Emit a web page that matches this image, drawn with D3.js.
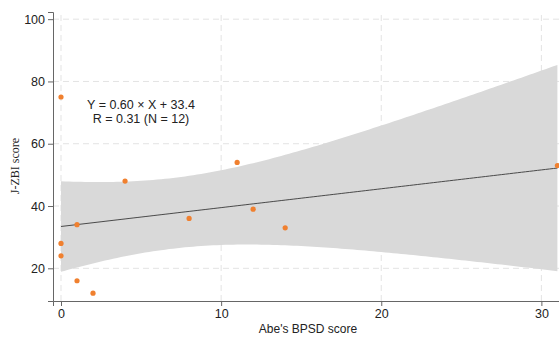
<!DOCTYPE html>
<html>
<head>
<meta charset="utf-8">
<script src="https://cdn.jsdelivr.net/npm/d3@7"></script>
<style>
body { margin: 0; background: #fff; }
text { font-family: "Liberation Sans", Arial, sans-serif; }
</style>
</head>
<body>
<script>
let width = 559;
let height = 337;

// Abe's BPSD score vs J-ZBI score
let bpsd = [0, 0, 0, 1, 1, 2, 4, 8, 11, 12, 14, 31];
let zbi  = [75, 28, 24, 34, 16, 12, 48, 36, 54, 39, 33, 53];
let xTicks = [0, 10, 20, 30];
let yTicks = [20, 40, 60, 80, 100];
let annot = ['Y = 0.60 \u00d7 X + 33.4', 'R = 0.31 (N = 12)'];

let x = d3.scaleLinear().domain([-0.5, 31.1]).range([53, 559]);
let y = d3.scaleLinear().domain([9.5, 102.3]).range([301, 12]);

let svg = d3.select('body')
.append('svg')
.attr('width', width)
.attr('height', height);

// grid
let grid = svg.append('g')
.attr('stroke', '#e3e3e3')
.attr('stroke-dasharray', '6,4')
.attr('stroke-width', 1);

grid.selectAll('.gx')
.data(xTicks)
.enter()
.append('line')
.attr('x1', d => x(d)).attr('x2', d => x(d))
.attr('y1', y.range()[0]).attr('y2', y.range()[1]);

grid.selectAll('.gy')
.data(yTicks)
.enter()
.append('line')
.attr('x1', x.range()[0]).attr('x2', x.range()[1])
.attr('y1', d => y(d)).attr('y2', d => y(d));

// linear fit with 95% CI
let n = bpsd.length;
let mx = d3.mean(bpsd), my = d3.mean(zbi);
let sxx = d3.sum(bpsd, d => (d - mx) * (d - mx));
let sxy = d3.sum(bpsd, (d, i) => (d - mx) * (zbi[i] - my));
let slope = sxy / sxx;
let icpt = my - slope * mx;
let sse = d3.sum(bpsd, (d, i) => Math.pow(zbi[i] - (icpt + slope * d), 2));
let s = Math.sqrt(sse / (n - 2));
let t = 2.228;

let xs = d3.range(0, 31.01, 0.25);
let band = xs.map(function(v){
    let se = s * Math.sqrt(1 / n + (v - mx) * (v - mx) / sxx);
    let f = icpt + slope * v;
    return {x: v, lo: f - t * se, hi: f + t * se, f: f};
});

svg.append('path')
.datum(band)
.attr('fill', '#d9d9d9')
.attr('d', d3.area().x(d => x(d.x)).y0(d => y(d.lo)).y1(d => y(d.hi)));

svg.append('path')
.datum(band)
.attr('fill', 'none')
.attr('stroke', '#4a4a4a')
.attr('stroke-width', 1)
.attr('d', d3.line().x(d => x(d.x)).y(d => y(d.f)));

// points
svg.append('g')
.selectAll('circle')
.data(bpsd)
.enter()
.append('circle')
.attr('cx', d => x(d))
.attr('cy', (d, i) => y(zbi[i]))
.attr('r', 2.6)
.attr('fill', '#f0802f');

// axes
let xAxis = svg.append('g')
.attr('transform', 'translate(0,301)')
.call(d3.axisBottom(x).tickValues(xTicks).tickSizeOuter(0).tickSize(5).tickPadding(3));

let yAxis = svg.append('g')
.attr('transform', 'translate(53,0)')
.call(d3.axisLeft(y).tickValues(yTicks).tickSizeOuter(0).tickSize(5).tickPadding(3));

[xAxis, yAxis].forEach(function(a){
    a.select('.domain').attr('stroke', '#666');
    a.selectAll('.tick line').attr('stroke', '#666');
    a.selectAll('.tick text')
    .attr('fill', '#222')
    .style('font-size', '12.5px')
    .style('font-family', '"Liberation Sans", Arial, sans-serif');
});

// axis titles
svg.append('text')
.attr('x', 308)
.attr('y', 333)
.attr('text-anchor', 'middle')
.attr('fill', '#222')
.style('font-size', '12px')
.text("Abe's BPSD score");

svg.append('text')
.attr('transform', 'translate(19,166) rotate(-90)')
.attr('text-anchor', 'middle')
.attr('fill', '#222')
.style('font-size', '12px')
.style('font-family', '"Liberation Serif", "Times New Roman", serif')
.text('J-ZBI score');

// annotation
svg.append('g')
.selectAll('text')
.data(annot)
.enter()
.append('text')
.attr('x', 141)
.attr('y', (d, i) => 109 + i * 14)
.attr('text-anchor', 'middle')
.attr('fill', '#222')
.style('font-size', '12.5px')
.text(d => d);
</script>
</body>
</html>
